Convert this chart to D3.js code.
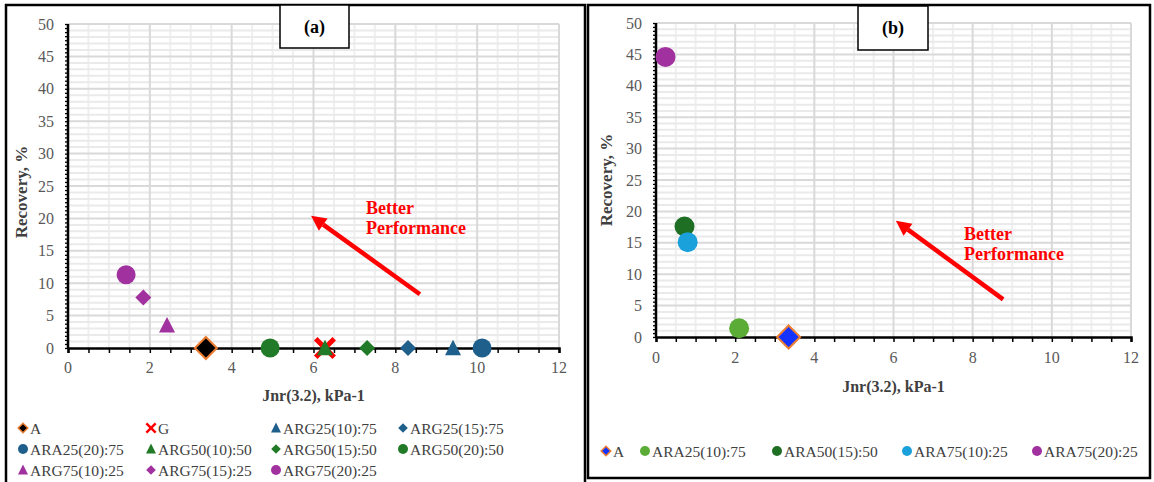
<!DOCTYPE html>
<html><head><meta charset="utf-8">
<script src="https://cdn.jsdelivr.net/npm/d3@7"></script>
<style>body{margin:0;background:#fff}svg{display:block}text{font-family:"Liberation Serif","Times New Roman",serif}</style>
</head><body>
<svg id="c" width="1154" height="482"></svg>
<script>
// ---------- data ----------
const xTickValues = [0, 2, 4, 6, 8, 10, 12];
const yTickValues = [0, 5, 10, 15, 20, 25, 30, 35, 40, 45, 50];

const namesA = ["A", "G", "ARG25(10):75", "ARG25(15):75", "ARA25(20):75", "ARG50(10):50",
                "ARG50(15):50", "ARG50(20):50", "ARG75(10):25", "ARG75(15):25", "ARG75(20):25"];
const jnrA = [3.37, 6.28, 9.41, 8.31, 10.12, 6.28, 7.31, 4.94, 2.42, 1.84, 1.42];
const recA = [0, 0, 0, 0, 0, 0, 0, 0, 3.5, 7.8, 11.3];

const namesB = ["A", "ARA25(10):75", "ARA50(15):50", "ARA75(10):25", "ARA75(20):25"];
const jnrB = [3.35, 2.10, 0.72, 0.80, 0.24];
const recB = [0, 1.4, 17.6, 15.1, 44.6];

const xTitle = "Jnr(3.2), kPa-1";
const yTitle = "Recovery, %";
const arrowText = ["Better", "Performance"];
// arrow [x0,y0] tail -> [x1,y1] tip, in data units
const arrowA = [[8.6, 8.3], [5.94, 20.4]];
const arrowB = [[8.77, 6.0], [6.06, 18.5]];

// ---------- styles ----------
const BLUE = "#1f5f8b", GREEN = "#217a27", PURPLE = "#a0319f", ORANGE = "#ed7d31";
const styleA = [
  {shape:"diamond", fill:"#000", stroke:ORANGE, s:11},
  {shape:"x", fill:"#ff0000", s:11},
  {shape:"triangle", fill:BLUE, s:16},
  {shape:"diamond", fill:BLUE, s:8},
  {shape:"circle", fill:BLUE, s:9.5},
  {shape:"triangle", fill:GREEN, s:16},
  {shape:"diamond", fill:GREEN, s:8},
  {shape:"circle", fill:GREEN, s:9.5},
  {shape:"triangle", fill:PURPLE, s:16},
  {shape:"diamond", fill:PURPLE, s:8},
  {shape:"circle", fill:PURPLE, s:9.5}
];
const styleB = [
  {shape:"diamond", fill:"#1433ff", stroke:ORANGE, s:11.5},
  {shape:"circle", fill:"#5aac36", s:10},
  {shape:"circle", fill:"#1e6e23", s:10},
  {shape:"circle", fill:"#1aa0da", s:10},
  {shape:"circle", fill:"#a0319f", s:10}
];

function markerPath(shape, s) {
  if (shape === "diamond") return `M0,${-s}L${s},0L0,${s}L${-s},0Z`;
  if (shape === "triangle") { const h = s * 0.9; return `M0,${-h/2 - 1}L${s/2},${h/2}L${-s/2},${h/2}Z`; }
  if (shape === "circle") return d3.symbol(d3.symbolCircle, Math.PI * s * s)();
  if (shape === "x") {
    const a = s, t = s * 0.32;
    return `M${-a},${-a+t}L${-a+t},${-a}L0,${-t}L${a-t},${-a}L${a},${-a+t}L${t},0L${a},${a-t}L${a-t},${a}L0,${t}L${-a+t},${a}L${-a},${a-t}L${-t},0Z`;
  }
}

const svg = d3.select("#c");

function drawPanel(cfg) {
  const g = svg.append("g");
  const x = d3.scaleLinear().domain([0, 12]).range([cfg.x0, cfg.x1]);
  const y = d3.scaleLinear().domain([0, 50]).range([cfg.y0, cfg.y1]);

  // frame
  g.append("path").attr("d", cfg.frame).attr("fill", "none").attr("stroke", "#000").attr("stroke-width", 2.5);

  // grid minor
  const grid = g.append("g");
  grid.selectAll(".vmin").data(d3.range(0.5, 12, 0.5).filter(v => v % 2 !== 0)).join("line")
    .attr("x1", d => x(d)).attr("x2", d => x(d)).attr("y1", y(0)).attr("y2", y(50))
    .attr("stroke", "#efefef").attr("stroke-width", 2);
  grid.selectAll(".hmin").data(d3.range(1, 50, 1).filter(v => v % 5 !== 0)).join("line")
    .attr("x1", x(0)).attr("x2", x(12)).attr("y1", d => y(d)).attr("y2", d => y(d))
    .attr("stroke", "#eaeaea").attr("stroke-width", 2);
  grid.selectAll(".vmaj").data(xTickValues.slice(1)).join("line")
    .attr("x1", d => x(d)).attr("x2", d => x(d)).attr("y1", y(0)).attr("y2", y(50))
    .attr("stroke", "#d9d9d9").attr("stroke-width", 2);
  grid.selectAll(".hmaj").data(yTickValues.slice(1)).join("line")
    .attr("x1", x(0)).attr("x2", x(12)).attr("y1", d => y(d)).attr("y2", d => y(d))
    .attr("stroke", "#d9d9d9").attr("stroke-width", 2);

  // axes
  const xAx = g.append("g").attr("transform", `translate(0,${y(0)})`)
    .call(d3.axisBottom(x).tickValues(d3.range(0, 12.01, 0.5)).tickSize(5).tickFormat(""));
  xAx.select(".domain").attr("stroke-width", 2.5);
  xAx.selectAll(".tick line").attr("stroke-width", 1.5);
  const yAx = g.append("g").attr("transform", `translate(${x(0)},0)`)
    .call(d3.axisLeft(y).tickValues(d3.range(0, 50.01, 0.625)).tickSize(3).tickFormat(""));
  yAx.select(".domain").attr("stroke-width", 2.5).attr("d", `M0,${y(0)}V${y(50)}`);
  yAx.selectAll(".tick line").attr("stroke-width", 1.3);

  g.selectAll(".xl").data(xTickValues).join("text")
    .attr("x", d => x(d)).attr("y", y(0) + cfg.xlabDy).attr("text-anchor", "middle")
    .attr("font-size", 16).attr("fill", "#595959").text(d => d);
  g.selectAll(".yl").data(yTickValues).join("text")
    .attr("x", x(0) - cfg.ylabDx).attr("y", d => y(d) + 5.5).attr("text-anchor", "end")
    .attr("font-size", 16).attr("fill", "#595959").text(d => d);

  g.append("text").attr("x", (x(0) + x(12)) / 2 + cfg.xtDx).attr("y", cfg.xtY).attr("text-anchor", "middle")
    .attr("font-size", 16).attr("font-weight", "bold").attr("fill", "#404040").text(xTitle);
  g.append("text").attr("transform", `translate(${cfg.ytX},${cfg.ytY}) rotate(-90)`).attr("text-anchor", "middle")
    .attr("font-size", 17).attr("font-weight", "bold").attr("fill", "#404040").text(yTitle);

  // arrow
  const [t0, t1] = cfg.arrow;
  const ax0 = x(t0[0]), ay0 = y(t0[1]), ax1 = x(t1[0]), ay1 = y(t1[1]);
  const ang = Math.atan2(ay1 - ay0, ax1 - ax0);
  const hl = 15, hw = 7.5;
  const bx = ax1 - hl * Math.cos(ang), by = ay1 - hl * Math.sin(ang);
  g.append("line").attr("x1", ax0).attr("y1", ay0).attr("x2", bx).attr("y2", by)
    .attr("stroke", "#ff0000").attr("stroke-width", 4.5);
  g.append("path").attr("fill", "#ff0000")
    .attr("d", `M${ax1},${ay1}L${bx - hw * Math.sin(ang)},${by + hw * Math.cos(ang)}L${bx + hw * Math.sin(ang)},${by - hw * Math.cos(ang)}Z`);
  g.selectAll(".at").data(arrowText).join("text")
    .attr("x", cfg.txtX).attr("y", (d, i) => cfg.txtY + i * 20)
    .attr("font-size", 18).attr("font-weight", "bold").attr("fill", "#ff0000").text(d => d);

  // points
  const idx = d3.range(cfg.names.length);
  g.selectAll(".pt").data(idx).join("path")
    .attr("transform", i => `translate(${x(cfg.xs[i])},${y(cfg.ys[i])})`)
    .attr("d", i => markerPath(cfg.styles[i].shape, cfg.styles[i].s))
    .attr("fill", i => cfg.styles[i].fill)
    .attr("stroke", i => cfg.styles[i].stroke || "none")
    .attr("stroke-width", 2);

  // label box
  g.append("rect").attr("x", cfg.box[0]).attr("y", cfg.box[1]).attr("width", cfg.box[2]).attr("height", cfg.box[3])
    .attr("fill", "#fff").attr("stroke", "#000").attr("stroke-width", 1.5);
  g.append("text").attr("x", cfg.box[0] + cfg.box[2] / 2).attr("y", cfg.box[1] + cfg.box[3] / 2 + 6)
    .attr("text-anchor", "middle").attr("font-size", 18).attr("font-weight", "bold").text(cfg.label);

  // legend
  const lg = g.selectAll(".lg").data(idx).join("g")
    .attr("transform", i => `translate(${cfg.legPos[i][0]},${cfg.legPos[i][1]})`);
  lg.append("path").attr("d", i => {
      const st = cfg.styles[i];
      const ls = st.shape === "triangle" ? 10 : st.shape === "circle" ? 5 : st.shape === "x" ? 5.5 : 4.8;
      return markerPath(st.shape, ls);
    })
    .attr("fill", i => cfg.styles[i].fill)
    .attr("stroke", i => cfg.styles[i].stroke || "none").attr("stroke-width", 1.5);
  lg.append("text").attr("x", 7).attr("y", 5.5).attr("font-size", 15.5).attr("fill", "#404040")
    .text(i => cfg.names[i]);
}

const colA = [23, 151, 276, 403], rowA = [428, 449, 470];
const legPosA = namesA.map((n, i) => [colA[i % 4], rowA[Math.floor(i / 4)]]);
drawPanel({
  names: namesA, xs: jnrA, ys: recA, styles: styleA,
  x0: 68, x1: 559, y0: 348, y1: 24,
  frame: "M6,484V5H585V484",
  xlabDy: 25, ylabDx: 14, xtY: 401, xtDx: 0, ytX: 27, ytY: 192,
  arrow: arrowA, txtX: 366, txtY: 214,
  box: [280, 5, 69, 43], label: "(a)",
  legPos: legPosA
});

const legXB = [606, 645, 777, 907, 1037];
drawPanel({
  names: namesB, xs: jnrB, ys: recB, styles: styleB,
  x0: 656, x1: 1131, y0: 337, y1: 23,
  frame: "M588,478V5H1150V478Z",
  xlabDy: 26, ylabDx: 14, xtY: 392, xtDx: 0, ytX: 612, ytY: 180,
  arrow: arrowB, txtX: 964, txtY: 240,
  box: [858, 6, 70, 44], label: "(b)",
  legPos: legXB.map(v => [v, 451])
});
</script>
</body></html>
